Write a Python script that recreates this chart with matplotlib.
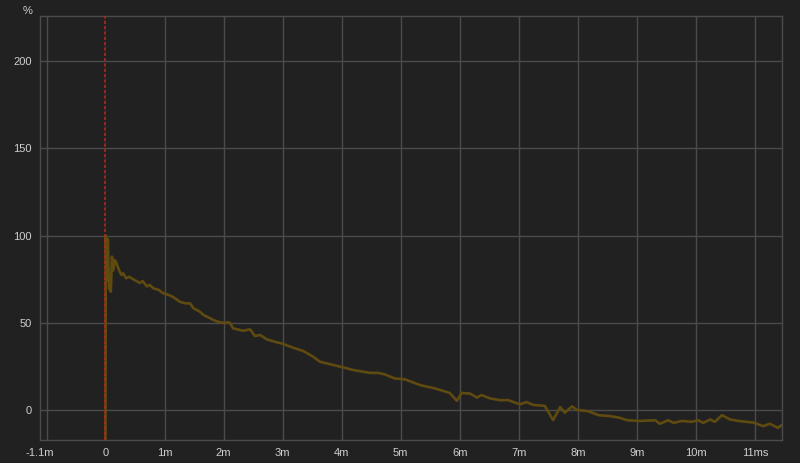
import numpy as np
import matplotlib.pyplot as plt

# Step response, time in ms, level in %
time_ms = [
    0.0, 0.005, 0.02, 0.04, 0.06, 0.09, 0.11, 0.13, 0.16, 0.19,
    0.22, 0.27, 0.30, 0.35, 0.40, 0.49, 0.58, 0.63, 0.70, 0.75,
    0.81, 0.90, 0.98, 1.08, 1.15, 1.26, 1.35, 1.43, 1.49, 1.60,
    1.66, 1.76, 1.83, 1.94, 2.02, 2.10, 2.16, 2.33, 2.45, 2.53,
    2.62, 2.73, 2.90, 2.98, 3.18, 3.35, 3.52, 3.63, 3.80, 4.03,
    4.20, 4.48, 4.62, 4.73, 4.90, 5.07, 5.33, 5.58, 5.83, 5.95,
    6.03, 6.17, 6.29, 6.37, 6.51, 6.68, 6.82, 7.02, 7.13, 7.24,
    7.44, 7.58, 7.70, 7.78, 7.90, 7.98, 8.18, 8.35, 8.54, 8.71,
    8.83, 9.05, 9.31, 9.39, 9.53, 9.62, 9.76, 9.93, 10.04, 10.12,
    10.24, 10.32, 10.44, 10.58, 10.74, 10.97, 11.14, 11.25, 11.39, 11.45,
]
level_pct = [
    -20, 100, 74, 98, 70, 68, 88, 80, 86, 84,
    81, 77.5, 78.5, 75.6, 76.5, 74.7, 73, 74, 71, 71.8,
    69.9, 69, 67, 66, 64.8, 62.2, 61.3, 61.3, 58.5, 56.5,
    54.6, 53, 51.7, 50.4, 50.2, 50.4, 47, 45.6, 46.4, 42.6,
    43.2, 40.7, 39, 38.4, 35.9, 34, 30.7, 27.9, 26.5, 24.6,
    23.1, 21.5, 21.5, 20.6, 18.3, 17.8, 14.5, 12.6, 10, 5.5,
    10, 9.7, 7.4, 8.8, 6.9, 5.9, 5.9, 3.5, 4.8, 3.2,
    2.6, -5.5, 1.9, -1.3, 2.3, 0.4, -0.5, -2.7, -3.2, -4.2,
    -5.6, -6, -5.6, -7.6, -5.6, -7.1, -6, -6.5, -5.6, -7.1,
    -5.2, -6.5, -2.7, -5.2, -6.1, -6.9, -9, -7.6, -10, -8.4,
]

x_ticks = [-1.109, 0, 1, 2, 3, 4, 5, 6, 7, 8, 9, 10, 11]
x_labels = ['-1.1m', '0', '1m', '2m', '3m', '4m', '5m', '6m', '7m', '8m', '9m', '10m', '11ms']
x_grid = [-0.985, 1, 2, 3, 4, 5, 6, 7, 8, 9, 10, 11]
y_ticks = [0, 50, 100, 150, 200]

bg = '#212121'
grid_col = '#4b4b4b'
text_col = '#cfcfcf'
curve_col = '#5f4b10'

plt.rcParams['font.family'] = ['Liberation Sans', 'DejaVu Sans']

fig = plt.figure(figsize=(8, 4.63), dpi=100, facecolor=bg)
ax = fig.add_axes([0.05, 0.0497, 0.927, 0.9157])
ax.set_facecolor(bg)

ax.set_xlim(-1.109, 11.45)
ax.set_ylim(-16.9, 225.7)

# grid
for gx in x_grid:
    ax.axvline(gx, color=grid_col, lw=1, zorder=1)
for gy in y_ticks:
    ax.axhline(gy, color=grid_col, lw=1, zorder=1)

ax.plot(time_ms, level_pct, color=curve_col, lw=1.9, zorder=3, solid_joinstyle='round')
ax.axvline(0, color='#b3261e', lw=1.2, ls=(0, (2, 1.2)), zorder=4)

ax.set_xticks(x_ticks, x_labels)
ax.set_yticks(y_ticks)
ax.tick_params(length=0, colors=text_col, labelsize=8)
ax.tick_params(axis='x', pad=6)
ax.tick_params(axis='y', pad=6)
for s in ax.spines.values():
    s.set_color(grid_col)
    s.set_linewidth(1)

fig.text(0.035, 0.987, '%', color=text_col, fontsize=8, ha='center', va='top')

fig.savefig('out.png', dpi=100, facecolor=bg)
